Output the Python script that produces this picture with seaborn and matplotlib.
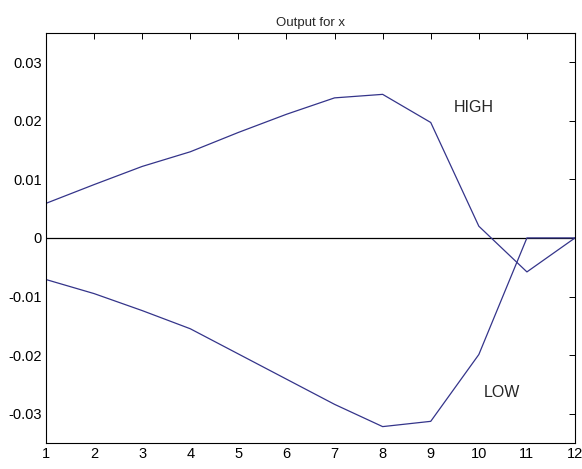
import numpy as np
import pandas as pd
import seaborn as sns
import matplotlib
matplotlib.use("Agg")
import matplotlib.pyplot as plt

# values
steps = [1, 2, 3, 4, 5, 6, 7, 8, 9, 10, 11, 12]
high = [0.0059, 0.0091, 0.0122, 0.0147, 0.0180, 0.0211, 0.0239, 0.0245, 0.0197, 0.0020, -0.0058, 0.0]
low = [-0.0071, -0.0095, -0.0124, -0.0155, -0.0198, -0.0241, -0.0284, -0.0322, -0.0313, -0.0199, 0.0, 0.0]

sns.set_style("white")
plt.rcParams["font.family"] = ["Liberation Sans", "DejaVu Sans"]

data = pd.DataFrame({"step": steps * 2,
                     "value": high + low,
                     "series": ["HIGH"] * len(steps) + ["LOW"] * len(steps)})

fig = plt.figure(figsize=(5.82, 4.69), dpi=100)
ax = fig.add_axes([0.079, 0.0554, 0.909, 0.8746])

ax.axhline(0, color="black", lw=0.9, zorder=1)
sns.lineplot(data=data, x="step", y="value", hue="series",
             palette=["#34348a", "#34348a"], lw=0.9, legend=False, ax=ax)

ax.text(9.48, 0.0222, "HIGH", fontsize=11.5, va="center", ha="left")
ax.text(10.1, -0.0264, "LOW", fontsize=11.5, va="center", ha="left")

ax.set_xlim(1, 12)
ax.set_ylim(-0.035, 0.035)
ax.set_xticks(steps)
ax.set_yticks([-0.03, -0.02, -0.01, 0, 0.01, 0.02, 0.03])
ax.set_yticklabels(["-0.03", "-0.02", "-0.01", "0", "0.01", "0.02", "0.03"])
ax.set_xlabel("")
ax.set_ylabel("")
ax.set_title("Output for x", fontsize=9.5, pad=5)

ax.tick_params(direction="in", length=4, width=0.7, top=True, right=True,
               labelsize=10.5, colors="black", pad=3)
for s in ax.spines.values():
    s.set_color("black")
    s.set_linewidth(0.8)
    s.set_visible(True)

fig.savefig("out.png", dpi=100)
